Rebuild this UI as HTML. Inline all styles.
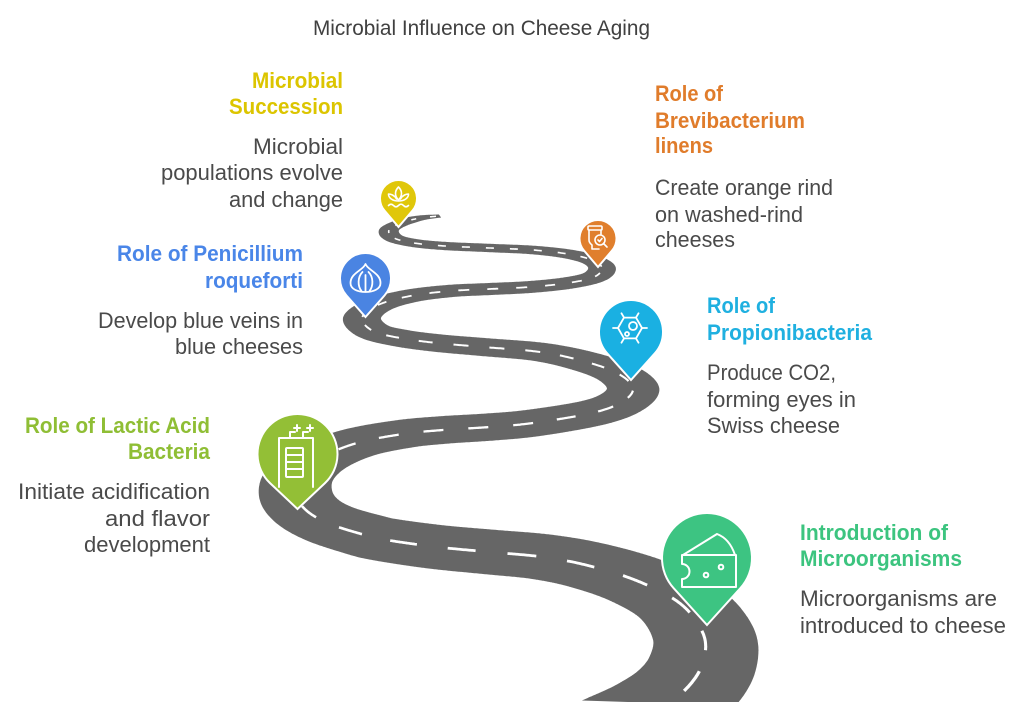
<!DOCTYPE html>
<html><head><meta charset="utf-8">
<style>
html,body{margin:0;padding:0;background:#fff;width:1024px;height:717px;overflow:hidden;}
svg{display:block;overflow:hidden;}
text{font-family:"Liberation Sans",Arial,sans-serif;}
.h{font-weight:bold;font-size:22px;}
.b{font-size:22px;fill:#4a4a4a;}
</style></head><body>
<svg id="s" width="1024" height="717" viewBox="0 0 1024 717" xmlns="http://www.w3.org/2000/svg">
<defs><clipPath id="cp"><rect x="0" y="0" width="1024" height="702"/></clipPath></defs>
<rect width="1024" height="717" fill="#fff"/>
<g id="road" clip-path="url(#cp)">
<polyline id="fb" fill="none" stroke="#666" stroke-width="26" stroke-linejoin="round" points="440,216 420,218 401,223 389,230 394,238 414,243 445,246 490,248 533,250 568,254 592,260 602,268 594,277 568,283 530,287 490,289 450,291 410,296 378,305 362,318 373,331 400,338 437,343 483,347 540,352 583,361 617,373 633,388 622,402 592,413 533,423 490,427 443,430 403,434 357,443 320,458 299,476 296,495 307,511 330,524 365,535 387,540 437,547 490,552 543,557 590,566 640,582 682,605 704,636 702,665 685,690 665,702"/>
</g>

<!-- pins -->
<g stroke="#fff" stroke-width="2" stroke-linejoin="miter">
<path d="M398.5,227 L412.56,210.51 A18.5,18.5 0 1 0 384.44,210.51 Z" fill="#e0c70a"/>
<path d="M598,267 L612.06,250.51 A18.5,18.5 0 1 0 583.94,250.51 Z" fill="#e07f2d"/>
<path d="M365.5,317 L384.6,295.39 A25.5,25.5 0 1 0 346.4,295.39 Z" fill="#4a84e2"/>
<path d="M631,380 L654.85,353.33 A32,32 0 1 0 607.15,353.33 Z" fill="#1ab0e2"/>
<path d="M297.5,509 L324.95,483.09 A40,40 0 1 0 270.05,483.09 Z" fill="#93bf36"/>
<path d="M707,625 L740.34,588.22 A45,45 0 1 0 673.66,588.22 Z" fill="#3dc482"/>
</g>

<!-- icons -->
<g fill="none" stroke="#fff" stroke-linecap="round" stroke-linejoin="round">
 <g transform="translate(398.5,197)" stroke-width="1.6">
  <path d="M0,-10 C4,-6 4,-1 0,3 C-4,-1 -4,-6 0,-10Z"/>
  <path d="M-2,2 C-4,-2 -8,-3 -10,-3 C-10,1 -6,4 0,4 C6,4 10,1 10,-3 C8,-3 4,-2 2,2"/>
  <path d="M-10,8.5 q2.5,-2.5 5,0 t5,0 t5,0 t5,0"/>
 </g>
 <g transform="translate(597,238)" stroke-width="1.6">
  <rect x="-9" y="-12" width="14" height="4" rx="1"/>
  <path d="M-8,-8 V2 C-8,5 -6,6 -5,7 V11 H2"/>
  <path d="M4,-8 V-4"/>
  <circle cx="3" cy="2" r="5"/>
  <path d="M6.5,5.5 L10,9"/>
  <path d="M1,2 l1.5,1.5 l2.5,-3"/>
 </g>
 <g transform="translate(365.5,278)" stroke-width="1.8">
  <path d="M0,-14 C-2,-8 -15,-5 -15,5 C-15,11 -8,14 0,14 C8,14 15,11 15,5 C15,-5 2,-8 0,-14Z"/>
  <path d="M0,-3 V13"/>
  <path d="M-3,-6 C-8,-1 -8,8 -4,13"/>
  <path d="M3,-6 C8,-1 8,8 4,13"/>
 </g>
 <g transform="translate(630,328)" stroke-width="1.8">
  <path d="M12,0 L6,10.4 L-6,10.4 L-12,0 L-6,-10.4 L6,-10.4 Z"/>
  <path d="M12,0 H17 M6,10.4 L8.5,14.7 M-6,10.4 L-8.5,14.7 M-12,0 H-17 M-6,-10.4 L-8.5,-14.7 M6,-10.4 L8.5,-14.7"/>
  <circle cx="3" cy="-2" r="4"/>
  <circle cx="-3" cy="6" r="2"/>
 </g>
 <g stroke-width="2">
  <path d="M279,487 V438 H313 V487"/>
  <path d="M290,438 V432 H295 M297,425 V431 M294,428 H300"/>
  <path d="M303,438 V432 H308 M310,425 V431 M307,428 H313"/>
  <rect x="286" y="448" width="17" height="29" rx="1"/>
  <path d="M286,455 H303 M286,462 H303 M286,469 H303"/>
 </g>
 <g stroke-width="2">
  <path d="M683,555 L717,534 C725,537 731,543 735,555"/>
  <path d="M682,555 H736 V587 H682 V579 A7.5,7.5 0 0 0 682,564 Z"/>
  <circle cx="721" cy="567" r="2.3"/>
  <circle cx="706" cy="575" r="2.3"/>
 </g>
</g>

<text x="481.5" y="35" text-anchor="middle" font-size="21" fill="#404040" textLength="337" lengthAdjust="spacingAndGlyphs">Microbial Influence on Cheese Aging</text>

<g text-anchor="end">
<text class="h" fill="#dcc500" x="343" y="88" textLength="91" lengthAdjust="spacingAndGlyphs">Microbial</text>
<text class="h" fill="#dcc500" x="343" y="114" textLength="114" lengthAdjust="spacingAndGlyphs">Succession</text>
<text class="b" x="343" y="154" textLength="90" lengthAdjust="spacingAndGlyphs">Microbial</text>
<text class="b" x="343" y="180" textLength="182" lengthAdjust="spacingAndGlyphs">populations evolve</text>
<text class="b" x="343" y="207" textLength="114" lengthAdjust="spacingAndGlyphs">and change</text>

<text class="h" fill="#4a86e8" x="303" y="261" textLength="186" lengthAdjust="spacingAndGlyphs">Role of Penicillium</text>
<text class="h" fill="#4a86e8" x="303" y="288" textLength="98" lengthAdjust="spacingAndGlyphs">roqueforti</text>
<text class="b" x="303" y="328" textLength="205" lengthAdjust="spacingAndGlyphs">Develop blue veins in</text>
<text class="b" x="303" y="354" textLength="128" lengthAdjust="spacingAndGlyphs">blue cheeses</text>

<text class="h" fill="#8fbe35" x="210" y="433" textLength="185" lengthAdjust="spacingAndGlyphs">Role of Lactic Acid</text>
<text class="h" fill="#8fbe35" x="210" y="459" textLength="82" lengthAdjust="spacingAndGlyphs">Bacteria</text>
<text class="b" x="210" y="499" textLength="192" lengthAdjust="spacingAndGlyphs">Initiate acidification</text>
<text class="b" x="210" y="526" textLength="105" lengthAdjust="spacingAndGlyphs">and flavor</text>
<text class="b" x="210" y="552" textLength="126" lengthAdjust="spacingAndGlyphs">development</text>
</g>

<g text-anchor="start">
<text class="h" fill="#e07c2b" x="655" y="101" textLength="68" lengthAdjust="spacingAndGlyphs">Role of</text>
<text class="h" fill="#e07c2b" x="655" y="128" textLength="150" lengthAdjust="spacingAndGlyphs">Brevibacterium</text>
<text class="h" fill="#e07c2b" x="655" y="153" textLength="58" lengthAdjust="spacingAndGlyphs">linens</text>
<text class="b" x="655" y="195" textLength="178" lengthAdjust="spacingAndGlyphs">Create orange rind</text>
<text class="b" x="655" y="222" textLength="148" lengthAdjust="spacingAndGlyphs">on washed-rind</text>
<text class="b" x="655" y="247" textLength="80" lengthAdjust="spacingAndGlyphs">cheeses</text>

<text class="h" fill="#1fb0e0" x="707" y="313" textLength="68" lengthAdjust="spacingAndGlyphs">Role of</text>
<text class="h" fill="#1fb0e0" x="707" y="340" textLength="165" lengthAdjust="spacingAndGlyphs">Propionibacteria</text>
<text class="b" x="707" y="380" textLength="129" lengthAdjust="spacingAndGlyphs">Produce CO2,</text>
<text class="b" x="707" y="407" textLength="149" lengthAdjust="spacingAndGlyphs">forming eyes in</text>
<text class="b" x="707" y="433" textLength="133" lengthAdjust="spacingAndGlyphs">Swiss cheese</text>

<text class="h" fill="#3cc47f" x="800" y="540" textLength="148" lengthAdjust="spacingAndGlyphs">Introduction of</text>
<text class="h" fill="#3cc47f" x="800" y="566" textLength="162" lengthAdjust="spacingAndGlyphs">Microorganisms</text>
<text class="b" x="800" y="606" textLength="197" lengthAdjust="spacingAndGlyphs">Microorganisms are</text>
<text class="b" x="800" y="633" textLength="206" lengthAdjust="spacingAndGlyphs">introduced to cheese</text>
</g>
</svg>
<script>
(function(){
var P=[[440,216],[420,218],[401,223],[389,230],[394,238],[414,243],[445,246],[490,248],[533,250],[568,254],[592,260],[602,268],[594,277],[568,283],[530,287],[490,289],[450,291],[410,296],[378,305],[362,318],[373,331],[400,338],[437,343],[483,347],[540,352],[583,361],[617,373],[633,388],[622,402],[592,413],[533,423],[490,427],[443,430],[403,434],[357,443],[320,458],[299,476],[296,495],[307,511],[330,524],[365,535],[387,540],[437,547],[490,552],[543,557],[590,566],[640,582],[682,605],[704,636],[702,665],[685,690],[655,712],[620,730]];
var NS='http://www.w3.org/2000/svg';
var YMAX=703;
function crPath(p){var d='M'+p[0][0]+','+p[0][1];
 for(var i=0;i<p.length-1;i++){var p0=p[i-1]||p[i],p1=p[i],p2=p[i+1],p3=p[i+2]||p[i+1];
  var c1x=p1[0]+(p2[0]-p0[0])/6,c1y=p1[1]+(p2[1]-p0[1])/6,c2x=p2[0]-(p3[0]-p1[0])/6,c2y=p2[1]-(p3[1]-p1[1])/6;
  d+=' C'+c1x+','+c1y+' '+c2x+','+c2y+' '+p2[0]+','+p2[1];}
 return d;}
var road=document.getElementById('road');
var cl=document.createElementNS(NS,'path');
cl.setAttribute('d',crPath(P));cl.setAttribute('fill','none');
road.appendChild(cl);
var L=cl.getTotalLength(),S=[];
for(var s=0;s<=L;s+=1){var q=cl.getPointAtLength(s);S.push([q.x,q.y]);}
cl.parentNode.removeChild(cl);
function W(y){return Math.max(4,0.205*(y-133));}
function K(y){var k=0.35+(y-240)/460*0.25;return Math.max(0.32,Math.min(0.62,k));}
var n=S.length,Lp=[],Rp=[];
for(var i=0;i<n;i++){
 var a=S[Math.max(0,i-2)],b=S[Math.min(n-1,i+2)];var y=S[i][1],k=K(y);
 var tx=b[0]-a[0],ty=(b[1]-a[1])/k;var m=Math.sqrt(tx*tx+ty*ty)||1;tx/=m;ty/=m;
 var nx=-ty,ny=tx;var h=W(y)/2;var st=Math.min(1,0.55+0.45*i/30);h*=st;
 Lp.push([S[i][0]+nx*h,Math.min(YMAX,S[i][1]+ny*h*k)]);Rp.push([S[i][0]-nx*h,Math.min(YMAX,S[i][1]-ny*h*k)]);}
var d='M'+Lp[0][0].toFixed(1)+','+Lp[0][1].toFixed(1);
for(i=1;i<n;i++)d+='L'+Lp[i][0].toFixed(1)+','+Lp[i][1].toFixed(1);
for(i=n-1;i>=0;i--)d+='L'+Rp[i][0].toFixed(1)+','+Rp[i][1].toFixed(1);
d+='Z';
var poly=document.createElementNS(NS,'path');poly.setAttribute('d',d);poly.setAttribute('fill','#666');
road.appendChild(poly);
var on=false,rem=4,cur=[];
function emit(){if(cur.length<2)return;var mid=cur[Math.floor(cur.length/2)];
 var pd='M'+cur.map(function(p){return p[0].toFixed(1)+','+p[1].toFixed(1);}).join('L');
 var e=document.createElementNS(NS,'path');e.setAttribute('d',pd);e.setAttribute('fill','none');
 e.setAttribute('stroke','#fff');e.setAttribute('stroke-width',(1.2+0.018*W(mid[1])).toFixed(2));
 road.appendChild(e);}
for(i=1;i<n;i++){
 var dx=S[i][0]-S[i-1][0],dy=S[i][1]-S[i-1][1],kk=K(S[i][1]);
 var ds=Math.sqrt(dx*dx+(dy/kk)*(dy/kk));rem-=ds;
 if(on&&S[i][1]<=YMAX)cur.push(S[i]);
 if(rem<=0){
  if(on){emit();on=false;rem=0.25*W(S[i][1])+10;}
  else{on=true;cur=S[i][1]<=YMAX?[S[i]]:[];rem=0.33*W(S[i][1]);}
 }}
if(on)emit();
var fb=document.getElementById('fb');if(fb)fb.parentNode.removeChild(fb);
})();
</script>
</body></html>
